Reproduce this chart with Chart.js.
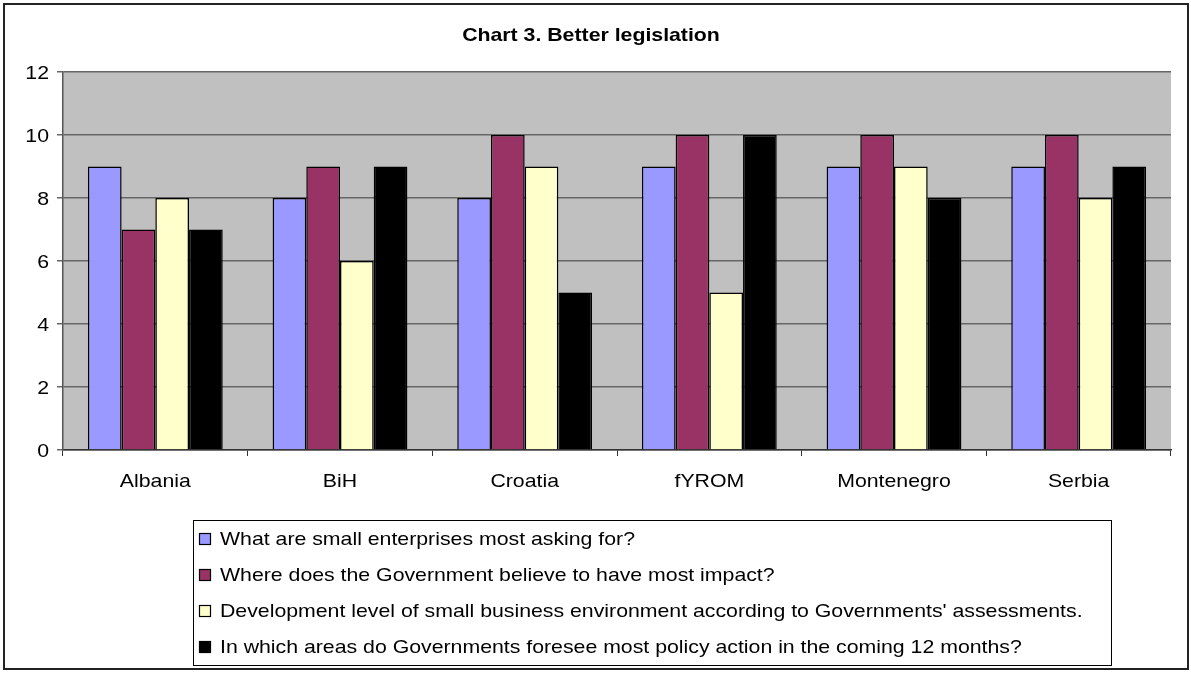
<!DOCTYPE html>
<html>
<head>
<meta charset="utf-8">
<script src="https://cdn.jsdelivr.net/npm/chart.js@4/dist/chart.umd.min.js"></script>
<style>
html,body{margin:0;padding:0;background:#fff;}
#wrap{width:1191px;height:673px;position:relative;}
</style>
</head>
<body>
<div id="wrap"><canvas id="c" width="1191" height="673"></canvas></div>
<script>
const TITLE = "Chart 3. Better legislation";
const categories = ["Albania", "BiH", "Croatia", "fYROM", "Montenegro", "Serbia"];
const seriesNames = [
  "What are small enterprises most asking for?",
  "Where does the Government believe to have most impact?",
  "Development level of small business environment according to Governments' assessments.",
  "In which areas do Governments foresee most policy action in the coming 12 months?"
];
const askingFor = [9, 8, 8, 9, 9, 9];
const mostImpact = [7, 9, 10, 10, 10, 10];
const developmentLevel = [8, 6, 9, 5, 9, 8];
const policyAction = [7, 9, 5, 10, 8, 9];
const yTicks = [0, 2, 4, 6, 8, 10, 12];
const seriesColors = ["#9999FF", "#993366", "#FFFFCC", "#000000"];

const FONT = "'Liberation Sans', Arial, Helvetica, sans-serif";
const STRETCH = 1.15;
const allSeries = [askingFor, mostImpact, developmentLevel, policyAction];

function stretchedText(ctx, text, x, y, align, font) {
  ctx.save();
  ctx.font = font;
  ctx.fillStyle = '#000';
  ctx.textAlign = align;
  ctx.textBaseline = 'alphabetic';
  ctx.translate(x, y);
  ctx.scale(STRETCH, 1);
  ctx.fillText(text, 0, 0);
  ctx.restore();
}

const chromePlugin = {
  id: 'chrome',
  beforeDraw(chart) {
    const ctx = chart.ctx, a = chart.chartArea;
    ctx.save();
    ctx.fillStyle = '#fff';
    ctx.fillRect(0, 0, chart.width, chart.height);
    ctx.fillStyle = '#C0C0C0';
    ctx.fillRect(a.left, a.top, a.right - a.left, a.bottom - a.top);
    ctx.restore();
  },
  afterDraw(chart) {
    const ctx = chart.ctx;
    const f = "18.5px " + FONT;
    ctx.save();
    // outer border
    ctx.strokeStyle = '#222';
    ctx.lineWidth = 2;
    ctx.strokeRect(4, 4, 1184, 665);
    ctx.restore();
    // title
    stretchedText(ctx, TITLE, 591, 41, 'center', "bold 18.5px " + FONT);
    // axis tick labels (positions from the library's scales)
    const xs = chart.scales.x, ys = chart.scales.y;
    xs.ticks.forEach((t, i) => {
      stretchedText(ctx, xs.getLabelForValue(t.value), xs.getPixelForTick(i), 487, 'center', f);
    });
    ys.ticks.forEach(t => {
      stretchedText(ctx, String(t.value), 49, ys.getPixelForValue(t.value) + 6.5, 'right', f);
    });
    // legend box
    ctx.save();
    const bx = 193, by = 520, bw = 918, bh = 145;
    ctx.strokeStyle = '#000';
    ctx.lineWidth = 1;
    ctx.strokeRect(bx + 0.5, by + 0.5, bw, bh);
    chart.data.datasets.forEach((ds, i) => {
      const top = 533.5 + i * 36;
      ctx.fillStyle = ds.backgroundColor;
      ctx.fillRect(199.5, top, 11, 11);
      ctx.strokeStyle = '#000';
      ctx.lineWidth = 1.2;
      ctx.strokeRect(199.5, top, 11, 11);
      stretchedText(ctx, ds.label, 220, 544.5 + i * 36, 'left', f);
    });
    ctx.restore();
  }
};

new Chart(document.getElementById('c'), {
  type: 'bar',
  data: {
    labels: categories,
    datasets: allSeries.map((vals, i) => ({
      label: seriesNames[i],
      data: vals,
      backgroundColor: seriesColors[i],
      borderColor: '#000',
      borderWidth: 1.5,
      borderSkipped: 'bottom',
      barPercentage: 1.0,
      categoryPercentage: 0.73
    }))
  },
  options: {
    responsive: false,
    animation: false,
    devicePixelRatio: 1,
    layout: { padding: { left: 3, top: 72, right: 20, bottom: 173 } },
    plugins: {
      legend: { display: false },
      title: { display: false },
      tooltip: { enabled: false }
    },
    scales: {
      x: {
        offset: true,
        grid: { offset: true, drawOnChartArea: false, drawTicks: true, tickLength: 6, color: '#333' },
        border: { display: true, color: '#333', width: 1.5 },
        ticks: { color: 'rgba(0,0,0,0)', font: { family: FONT, size: 17 }, padding: 12 },
        afterFit(s) { s.height = 50; }
      },
      y: {
        min: 0, max: 12,
        afterBuildTicks(s) { s.ticks = yTicks.map(v => ({ value: v })); },
        grid: { color: '#666', lineWidth: 1.5, tickLength: 6, drawTicks: true },
        border: { display: true, color: '#555', width: 1.5 },
        ticks: { color: 'rgba(0,0,0,0)', font: { family: FONT, size: 17 }, padding: 8 },
        afterFit(s) { s.width = 60; }
      }
    }
  },
  plugins: [chromePlugin]
});
</script>
</body>
</html>
